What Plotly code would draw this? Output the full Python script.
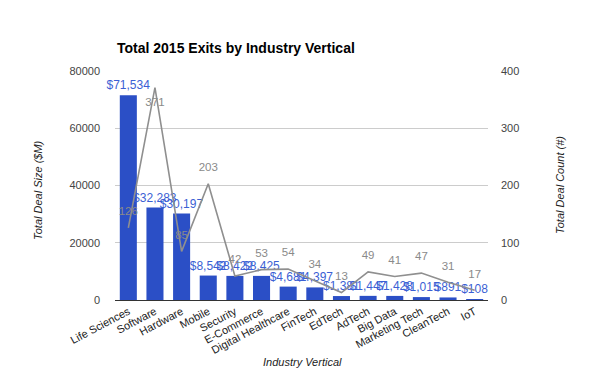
import plotly.graph_objects as go

categories = ["Life Sciences", "Software", "Hardware", "Mobile", "Security", "E-Commerce",
              "Digital Healthcare", "FinTech", "EdTech", "AdTech", "Big Data",
              "Marketing Tech", "CleanTech", "IoT"]
deal_size = [71534, 32283, 30197, 8542, 8422, 8425, 4681, 4397, 1381, 1447, 1428, 1015, 891, 108]
deal_count = [126, 371, 85, 203, 42, 53, 54, 34, 13, 49, 41, 47, 31, 17]
left_ticks = [0, 20000, 40000, 60000, 80000]
right_ticks = [0, 100, 200, 300, 400]

FONT = "Liberation Sans, Arial, sans-serif"

bar_text = ["$" + format(v, ",") for v in deal_size]
count_pos = ["bottom center" if c == max(deal_count) else "top center" for c in deal_count]

fig = go.Figure()
fig.add_trace(go.Bar(
    x=categories, y=deal_size, marker_color="#2b4fc6", marker_line_width=0,
    text=bar_text, textposition="outside", cliponaxis=False, constraintext="none",
    textfont=dict(color="#3b5fd4", size=12, family=FONT),
    hoverinfo="skip",
))
fig.add_trace(go.Scatter(
    x=categories, y=deal_count, yaxis="y2", mode="lines+markers+text",
    line=dict(color="#8f8f8f", width=1.6),
    marker=dict(size=14, color="rgba(0,0,0,0)"),
    text=[str(c) for c in deal_count], textposition=count_pos,
    textfont=dict(color="#8a8a8a", size=11.5, family=FONT), cliponaxis=False,
    hoverinfo="skip",
))

fig.update_layout(
    width=604, height=371,
    margin=dict(l=107, r=124, t=63, b=79),
    paper_bgcolor="white", plot_bgcolor="white",
    showlegend=False,
    bargap=0.36,
    font=dict(family=FONT, size=11, color="#444"),
    title=dict(text="<b>Total 2015 Exits by Industry Vertical</b>",
               font=dict(family=FONT, size=14, color="#000"),
               x=109 / 604, xanchor="left", xref="container",
               y=1 - 40 / 371, yanchor="middle", yref="container"),
    xaxis=dict(tickangle=-28, range=[-0.5, len(categories) - 0.5], showgrid=False,
               showline=True, linecolor="#333", linewidth=1, ticks="", automargin=False,
               tickfont=dict(size=11, color="#222")),
    yaxis=dict(range=[0, 80000], tickvals=left_ticks, tickformat="d", showgrid=True,
               gridcolor="#cccccc", zeroline=False, ticks="", automargin=False,
               ticklabelstandoff=14, tickfont=dict(size=11, color="#444")),
    yaxis2=dict(range=[0, 400], tickvals=right_ticks, overlaying="y", side="right",
                showgrid=False, zeroline=False, ticks="", ticklabelstandoff=12,
                automargin=False, tickfont=dict(size=11, color="#444")),
    annotations=[
        dict(text="<i>Total Deal Size ($M)</i>", textangle=-90, xref="paper", yref="paper",
             x=(38 - 115) / 373, y=(300 - 190) / 229, showarrow=False,
             xanchor="center", yanchor="middle", font=dict(size=11, color="#222")),
        dict(text="<i>Total Deal Count (#)</i>", textangle=-90, xref="paper", yref="paper",
             x=(560 - 115) / 373, y=(300 - 185) / 229, showarrow=False,
             xanchor="center", yanchor="middle", font=dict(size=11, color="#222")),
        dict(text="<i>Industry Vertical</i>", xref="paper", yref="paper",
             x=(302 - 115) / 373, y=(300 - 362) / 229, showarrow=False,
             xanchor="center", yanchor="middle", font=dict(size=11, color="#222")),
    ],
)

fig.write_html("out.html")
